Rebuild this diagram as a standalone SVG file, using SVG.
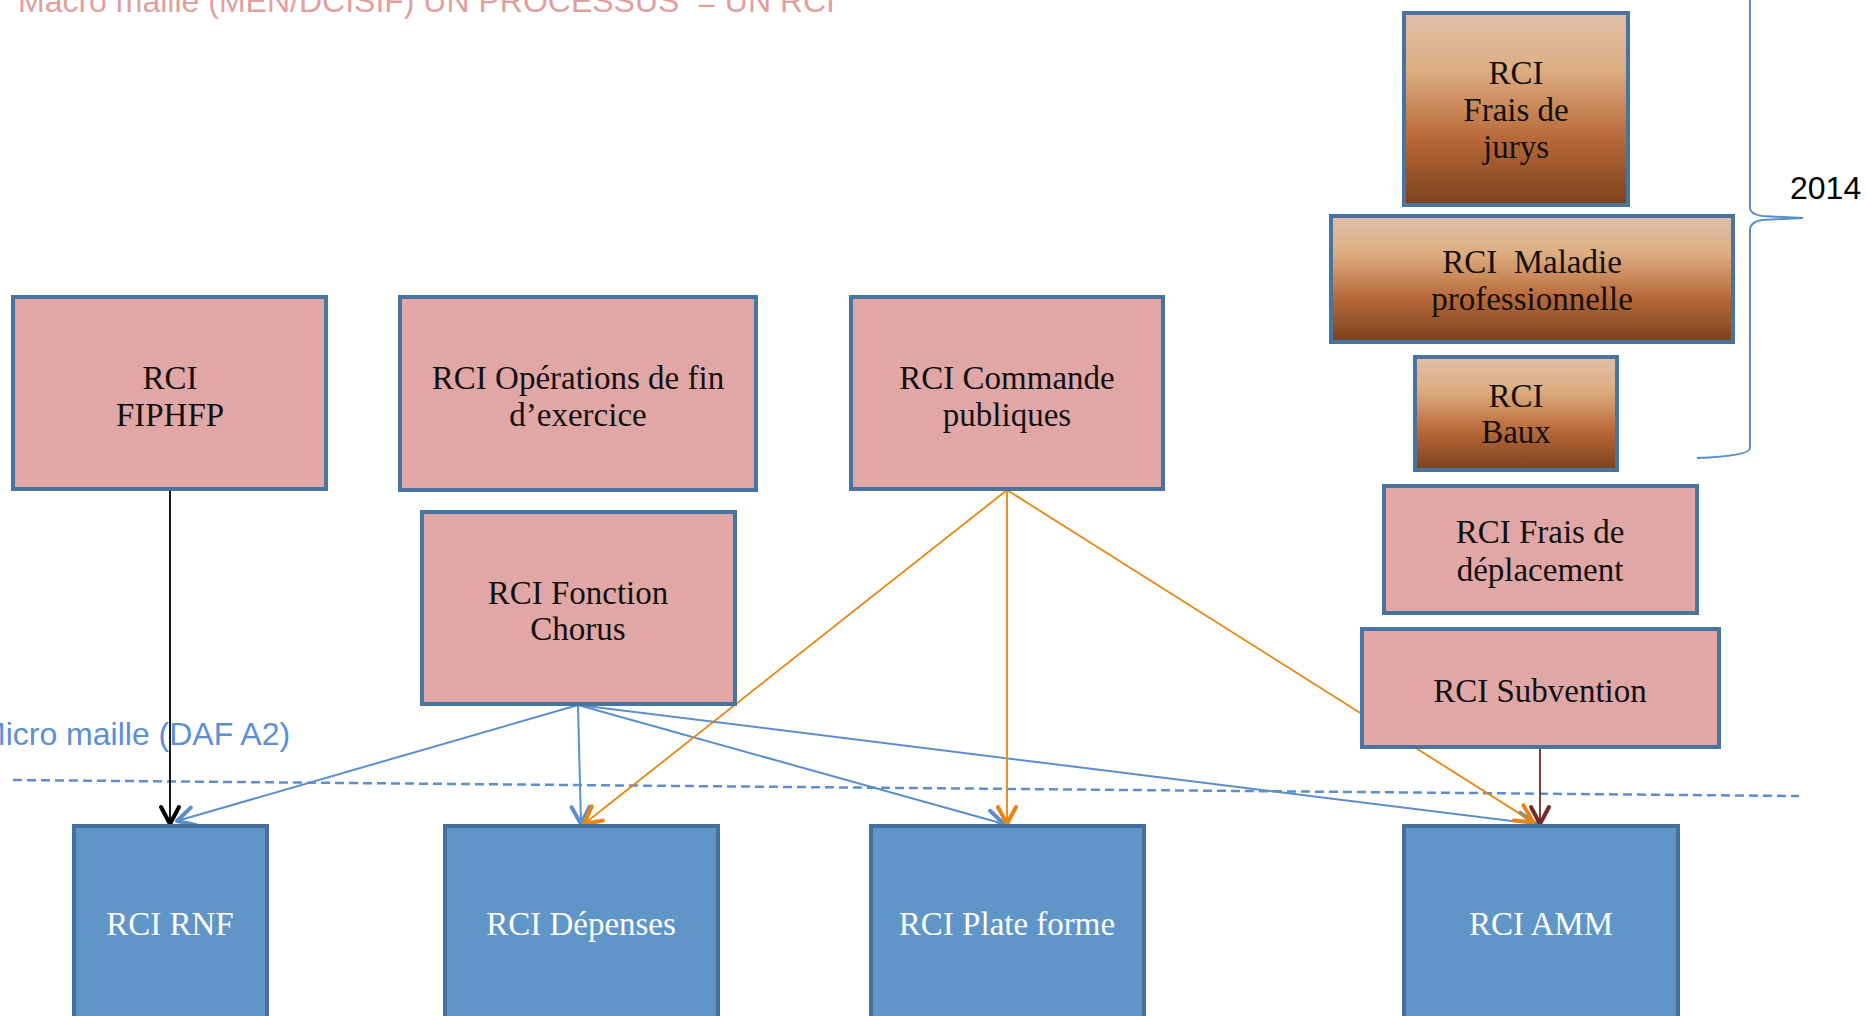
<svg xmlns="http://www.w3.org/2000/svg" width="1866" height="1016" viewBox="0 0 1866 1016">
<style>
.pink{fill:#E1A7A6;stroke:#4A74A0;stroke-width:4}
.blue{fill:#6095C8;stroke:#466F9C;stroke-width:4}
.brown{fill:url(#brownGrad);stroke:#4A74A0;stroke-width:4}
.t{font-family:"Liberation Serif","Times New Roman",serif;font-size:33px;text-anchor:middle;fill:#111}
.tw{font-family:"Liberation Serif","Times New Roman",serif;font-size:33px;text-anchor:middle;fill:#ffffff}
.lab{font-family:"Liberation Sans",Arial,sans-serif;font-size:32px}
.cb{fill:none;stroke:#5B8FCC;stroke-width:2}
.co{fill:none;stroke:#EA850F;stroke-width:1.8}
</style>
<defs>
<linearGradient id="brownGrad" x1="0" y1="0" x2="0" y2="1">
<stop offset="0" stop-color="#DFBFAA"/>
<stop offset="0.3" stop-color="#DDAD80"/>
<stop offset="0.65" stop-color="#B8693A"/>
<stop offset="1" stop-color="#7A421B"/>
</linearGradient>
<marker id="aBlue" markerUnits="userSpaceOnUse" viewBox="-22 -12 26 24" markerWidth="26" markerHeight="24" refX="0" refY="0" orient="auto"><path d="M-17,-9 L0,0 L-17,9" fill="none" stroke="#5B8FCC" stroke-width="4" stroke-linecap="round" stroke-linejoin="round"/></marker>
<marker id="aOrange" markerUnits="userSpaceOnUse" viewBox="-22 -12 26 24" markerWidth="26" markerHeight="24" refX="0" refY="0" orient="auto"><path d="M-17,-9 L0,0 L-17,9" fill="none" stroke="#EA850F" stroke-width="4" stroke-linecap="round" stroke-linejoin="round"/></marker>
<marker id="aBlack" markerUnits="userSpaceOnUse" viewBox="-22 -12 26 24" markerWidth="26" markerHeight="24" refX="0" refY="0" orient="auto"><path d="M-17,-9 L0,0 L-17,9" fill="none" stroke="#000" stroke-width="4" stroke-linecap="round" stroke-linejoin="round"/></marker>
<marker id="aBrown" markerUnits="userSpaceOnUse" viewBox="-22 -12 26 24" markerWidth="26" markerHeight="24" refX="0" refY="0" orient="auto"><path d="M-17,-9 L0,0 L-17,9" fill="none" stroke="#722B2B" stroke-width="4" stroke-linecap="round" stroke-linejoin="round"/></marker>
</defs>
<rect width="1866" height="1016" fill="#ffffff"/>

<text class="lab" x="18" y="12" fill="#E0A09E" xml:space="preserve">Macro maille (MEN/DCISIF) UN PROCESSUS  = UN RCI</text>
<text class="lab" x="-21" y="745" fill="#5B8FD6">Micro maille (DAF A2)</text>
<text class="lab" x="1790" y="199" fill="#000">2014</text>
<line x1="13" y1="780" x2="1799" y2="796" stroke="#5B8FCC" stroke-width="2.5" stroke-dasharray="9,5"/>
<path d="M1750,-5 L1750,208 Q1750,214 1762,216 L1803,218 L1762,220 Q1750,222 1750,230 L1750,448 Q1750,456 1697,458" fill="none" stroke="#5B8FCC" stroke-width="2"/>

<g id="connectors">
<line x1="170" y1="490" x2="170" y2="824" stroke="#000" stroke-width="1.8" marker-end="url(#aBlack)"/>
<line class="cb" x1="578" y1="705" x2="177" y2="821" marker-end="url(#aBlue)"/>
<line class="cb" x1="578" y1="705" x2="581" y2="824" marker-end="url(#aBlue)"/>
<line class="cb" x1="578" y1="705" x2="1004" y2="824" marker-end="url(#aBlue)"/>
<line class="cb" x1="578" y1="705" x2="1536" y2="824" marker-end="url(#aBlue)"/>
<line class="co" x1="1007" y1="490" x2="584" y2="824" marker-end="url(#aOrange)"/>
<line class="co" x1="1007" y1="490" x2="1007" y2="824" marker-end="url(#aOrange)"/>
<line class="co" x1="1007" y1="490" x2="1533" y2="822" marker-end="url(#aOrange)"/>
<line x1="1540" y1="748" x2="1540" y2="824" stroke="#722B2B" stroke-width="1.8" marker-end="url(#aBrown)"/>
</g>

<g id="n-fiphfp"><rect class="pink" x="13" y="297" width="313" height="192"/><text class="t" x="170" y="389">RCI</text><text class="t" x="170" y="426">FIPHFP</text></g>
<g id="n-operations"><rect class="pink" x="400" y="297" width="356" height="193"/><text class="t" x="578" y="389">RCI Opérations de fin</text><text class="t" x="578" y="426">d’exercice</text></g>
<g id="n-chorus"><rect class="pink" x="422" y="512" width="313" height="192"/><text class="t" x="578" y="604">RCI Fonction</text><text class="t" x="578" y="640">Chorus</text></g>
<g id="n-commande"><rect class="pink" x="851" y="297" width="312" height="192"/><text class="t" x="1007" y="389">RCI Commande</text><text class="t" x="1007" y="426">publiques</text></g>
<g id="n-jurys"><rect class="brown" x="1404" y="13" width="224" height="192"/><text class="t" x="1516" y="84">RCI</text><text class="t" x="1516" y="121">Frais de</text><text class="t" x="1516" y="158">jurys</text></g>
<g id="n-maladie"><rect class="brown" x="1331" y="216" width="402" height="126"/><text class="t" x="1532" y="273" xml:space="preserve">RCI  Maladie</text><text class="t" x="1532" y="310">professionnelle</text></g>
<g id="n-baux"><rect class="brown" x="1415" y="357" width="202" height="113"/><text class="t" x="1516" y="407">RCI</text><text class="t" x="1516" y="443">Baux</text></g>
<g id="n-deplacement"><rect class="pink" x="1384" y="486" width="313" height="127"/><text class="t" x="1540" y="543">RCI Frais de</text><text class="t" x="1540" y="581">déplacement</text></g>
<g id="n-subvention"><rect class="pink" x="1362" y="629" width="357" height="118"/><text class="t" x="1540" y="702">RCI Subvention</text></g>
<g id="n-rnf"><rect class="blue" x="74" y="826" width="193" height="200"/><text class="tw" x="170" y="935">RCI RNF</text></g>
<g id="n-depenses"><rect class="blue" x="445" y="826" width="273" height="200"/><text class="tw" x="581" y="935">RCI Dépenses</text></g>
<g id="n-plateforme"><rect class="blue" x="871" y="826" width="273" height="200"/><text class="tw" x="1007" y="935">RCI Plate forme</text></g>
<g id="n-amm"><rect class="blue" x="1404" y="826" width="274" height="200"/><text class="tw" x="1541" y="935">RCI AMM</text></g>
</svg>
